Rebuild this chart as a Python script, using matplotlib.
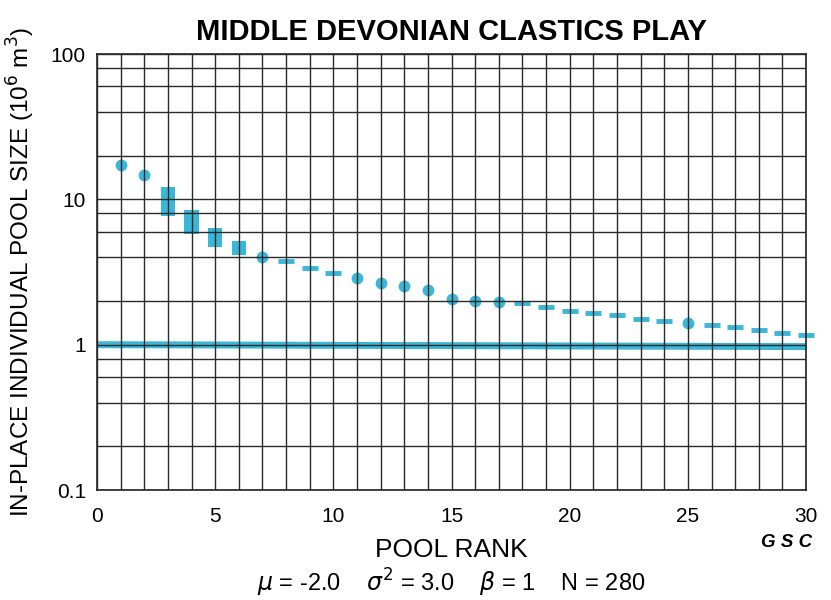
import matplotlib.pyplot as plt
from matplotlib.ticker import FixedLocator, MultipleLocator, NullFormatter

CYAN = '#3ab7d8'

# pool sizes (10^6 m^3) by rank
circle_rank = [1, 2, 7, 11, 12, 13, 14, 15, 16, 17, 25]
circle_size = [17.3, 14.6, 4.0, 2.89, 2.67, 2.55, 2.39, 2.07, 2.01, 1.98, 1.42]

range_rank = [3, 4, 5, 6]
range_low = [7.7, 5.8, 4.7, 4.15]
range_high = [12.2, 8.4, 6.35, 5.2]

dash_rank = [8, 9, 10, 18, 19, 20, 21, 22, 23, 24, 26, 27, 28, 29, 30]
dash_size = [3.77, 3.39, 3.13, 1.94, 1.83, 1.71, 1.66, 1.61, 1.51, 1.46,
             1.37, 1.33, 1.27, 1.21, 1.17]

level_rank = [0, 30]
level_size = [1.0, 0.97]

plt.rcParams['font.family'] = ['Liberation Sans', 'DejaVu Sans']

fig = plt.figure(figsize=(8.31, 6), dpi=100)
ax = fig.add_axes([0.1167, 0.1833, 0.8533, 0.7267])

ax.plot(level_rank, level_size, color=CYAN, lw=5, solid_capstyle='butt', zorder=2)
ax.bar(range_rank, [h - l for l, h in zip(range_low, range_high)], bottom=range_low,
       width=0.6, color=CYAN, zorder=2)
ax.plot(circle_rank, circle_size, 'o', color=CYAN, ms=8.5, mew=0, zorder=2)
ax.plot(dash_rank, dash_size, '_', color=CYAN, ms=11.5, mew=3.5, zorder=2, clip_on=False)

ax.set_yscale('log')
ax.set_xlim(0, 30)
ax.set_ylim(0.1, 100)
ax.xaxis.set_major_locator(MultipleLocator(5))
ax.xaxis.set_minor_locator(MultipleLocator(1))
ax.yaxis.set_major_locator(FixedLocator([0.1, 1, 10, 100]))
ax.yaxis.set_minor_locator(FixedLocator([m * d for d in (0.1, 1, 10) for m in (2, 4, 6, 8)]))
ax.yaxis.set_minor_formatter(NullFormatter())
ax.set_yticklabels(['0.1', '1', '10', '100'])

ax.set_axisbelow(False)
ax.grid(True, which='both', color='#2a2a2a', lw=1.0)
ax.tick_params(which='both', length=0, labelsize=15, pad=8)
ax.tick_params(axis='x', pad=12)
for s in ax.spines.values():
    s.set_color('#222222')
    s.set_linewidth(1.2)

ax.set_title('MIDDLE DEVONIAN CLASTICS PLAY', fontsize=21, fontweight='bold', pad=10)
ax.set_xlabel('POOL RANK', fontsize=19, labelpad=9)
ax.set_ylabel('IN-PLACE INDIVIDUAL POOL SIZE (10$^6$ m$^3$)', fontsize=17.5, labelpad=10)
fig.text(0.947, 0.096, 'G S C', fontsize=13.5, fontweight='bold', style='italic',
         ha='center', va='center')
fig.text(0.543, 0.028, r'$\mu$ = -2.0    $\sigma^2$ = 3.0    $\beta$ = 1    N = 280',
         fontsize=17, ha='center', va='center')

fig.savefig('out.png', dpi=100)
